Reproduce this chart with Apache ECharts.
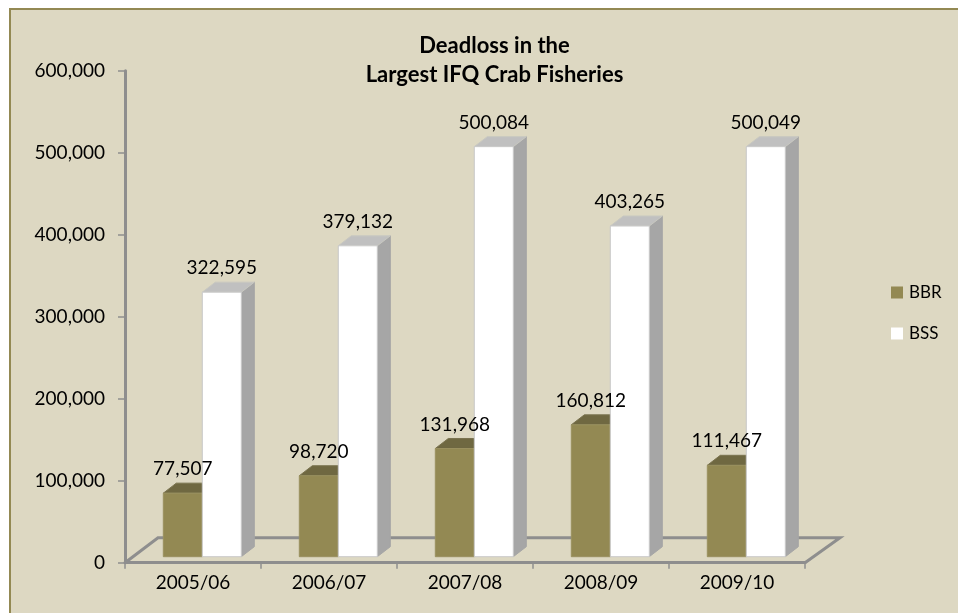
<!DOCTYPE html>
<html>
<head>
<meta charset="utf-8">
<style>html,body{margin:0;padding:0;background:#fff}#c{width:958px;height:613px}</style>
<script src="https://cdn.jsdelivr.net/npm/echarts@6/dist/echarts.min.js"></script>
</head>
<body>
<div id="c"></div>
<script>
const categories = ['2005/06', '2006/07', '2007/08', '2008/09', '2009/10'];
const bbrValues = [77507, 98720, 131968, 160812, 111467];
const bssValues = [322595, 379132, 500084, 403265, 500049];
const titleText = 'Deadloss in the\nLargest IFQ Crab Fisheries';

const FONT = 'Lato, "Open Sans", sans-serif';
const chart = echarts.init(document.getElementById('c'), null, {renderer: 'canvas'});
const fmt = v => Number(v).toLocaleString('en-US');

// Pseudo-3D geometry, relative to the category band width
const WIDTH_RATIO = 39 / 136, FRONT_DX = 9.3, BASE_DY = 6, DEPTH_X = 13, DEPTH_Y = 10;

function barRenderer(side, faces) {
  return function (params, api) {
    const cat = api.value(0), val = api.value(1);
    const top = api.coord([cat, val]);
    const base = api.coord([cat, 0]);
    const w = api.size([1, 0])[0] * WIDTH_RATIO;
    const x0 = side < 0 ? top[0] + FRONT_DX - w : top[0] + FRONT_DX;
    const x1 = x0 + w;
    const yT = top[1] - BASE_DY, yB = base[1] - BASE_DY;
    const poly = (pts, fill, stroke, z2) => ({
      type: 'polygon', z2: z2 || 0, shape: {points: pts},
      style: {fill: fill, stroke: stroke || fill, lineWidth: 1}
    });
    return {
      type: 'group',
      children: [
        poly([[x1, yT], [x1 + DEPTH_X, yT - DEPTH_Y], [x1 + DEPTH_X, yB - DEPTH_Y], [x1, yB]], faces.side, faces.side),
        poly([[x0, yT], [x0 + DEPTH_X, yT - DEPTH_Y], [x1 + DEPTH_X, yT - DEPTH_Y], [x1, yT]], faces.top, faces.topStroke),
        poly([[x0, yT], [x1, yT], [x1, yB], [x0, yB]], faces.front, faces.frontStroke),
        {
          type: 'text', z2: 100,
          style: {
            x: (x0 + x1) / 2, y: yT - 24, text: fmt(val), fill: '#000',
            font: '19px ' + FONT, align: 'center', verticalAlign: 'middle'
          }
        }
      ]
    };
  };
}

function floorRenderer(params, api) {
  const s = params.coordSys;
  const yF = s.y + s.height, xL = s.x, xR = s.x + s.width;
  const dx = 33, dy = 25;
  return {
    type: 'polyline',
    shape: {points: [[xL, yF], [xL + dx, yF - dy], [xR + dx + 2, yF - dy], [xR, yF]]},
    style: {fill: null, stroke: '#8e8e8e', lineWidth: 3}
  };
}

const bbrData = categories.map((c, i) => [i, bbrValues[i]]);
const bssData = categories.map((c, i) => [i, bssValues[i]]);

chart.setOption({
  animation: false,
  backgroundColor: '#fff',
  title: {
    text: titleText, left: 489.5, top: 26, textAlign: 'center',
    textStyle: {fontFamily: FONT, fontWeight: 'bold', fontSize: 22, lineHeight: 29, color: '#000'}
  },
  legend: {
    data: ['BBR', 'BSS'], orient: 'vertical', left: 891, top: 284,
    itemWidth: 12, itemHeight: 12, itemGap: 24, icon: 'rect', padding: 0,
    textStyle: {fontFamily: FONT, fontSize: 17, lineHeight: 12, color: '#000', padding: [0, 0, 0, 1]}
  },
  grid: {left: 125, right: 153, top: 70.7, bottom: 50.3, containLabel: false},
  xAxis: {
    type: 'category', data: categories, boundaryGap: true,
    axisLine: {lineStyle: {color: '#8e8e8e', width: 3}},
    axisTick: {show: true, length: 6, alignWithLabel: false, lineStyle: {color: '#8e8e8e', width: 1.5}},
    axisLabel: {fontFamily: FONT, fontSize: 19, color: '#000', margin: 11},
    splitLine: {show: false}
  },
  yAxis: {
    type: 'value', min: 0, max: 600000, interval: 100000,
    axisLine: {show: true, lineStyle: {color: '#8e8e8e', width: 3}},
    axisTick: {show: true, length: 7, lineStyle: {color: '#8e8e8e', width: 1.5}},
    axisLabel: {fontFamily: FONT, fontSize: 19, color: '#000', margin: 20, formatter: fmt},
    splitLine: {show: false}
  },
  graphic: [
    {type: 'rect', silent: true, z: -10, shape: {x: 9, y: 8, width: 949, height: 605}, style: {fill: '#ddd8c2'}},
    {type: 'rect', silent: true, z: -9, shape: {x: 9, y: 8, width: 949, height: 2}, style: {fill: '#938953'}},
    {type: 'rect', silent: true, z: -9, shape: {x: 9, y: 8, width: 2, height: 605}, style: {fill: '#938953'}}
  ],
  series: [
    {type: 'custom', coordinateSystem: 'cartesian2d', z: 1, silent: true, renderItem: floorRenderer, data: [[0, 0]]},
    {
      name: 'BBR', type: 'custom', coordinateSystem: 'cartesian2d', z: 2, silent: true,
      itemStyle: {color: '#938953'},
      renderItem: barRenderer(-1, {front: '#938953', frontStroke: '#9a9160', top: '#6f6841', topStroke: '#7a734f', side: '#6f6841'}),
      encode: {x: 0, y: 1}, data: bbrData
    },
    {
      name: 'BSS', type: 'custom', coordinateSystem: 'cartesian2d', z: 2, silent: true,
      itemStyle: {color: '#ffffff'},
      renderItem: barRenderer(1, {front: '#ffffff', frontStroke: '#c9c9c9', top: '#c0c0c0', topStroke: '#c8c8c0', side: '#a6a6a6'}),
      encode: {x: 0, y: 1}, data: bssData
    }
  ]
});
</script>
</body>
</html>
